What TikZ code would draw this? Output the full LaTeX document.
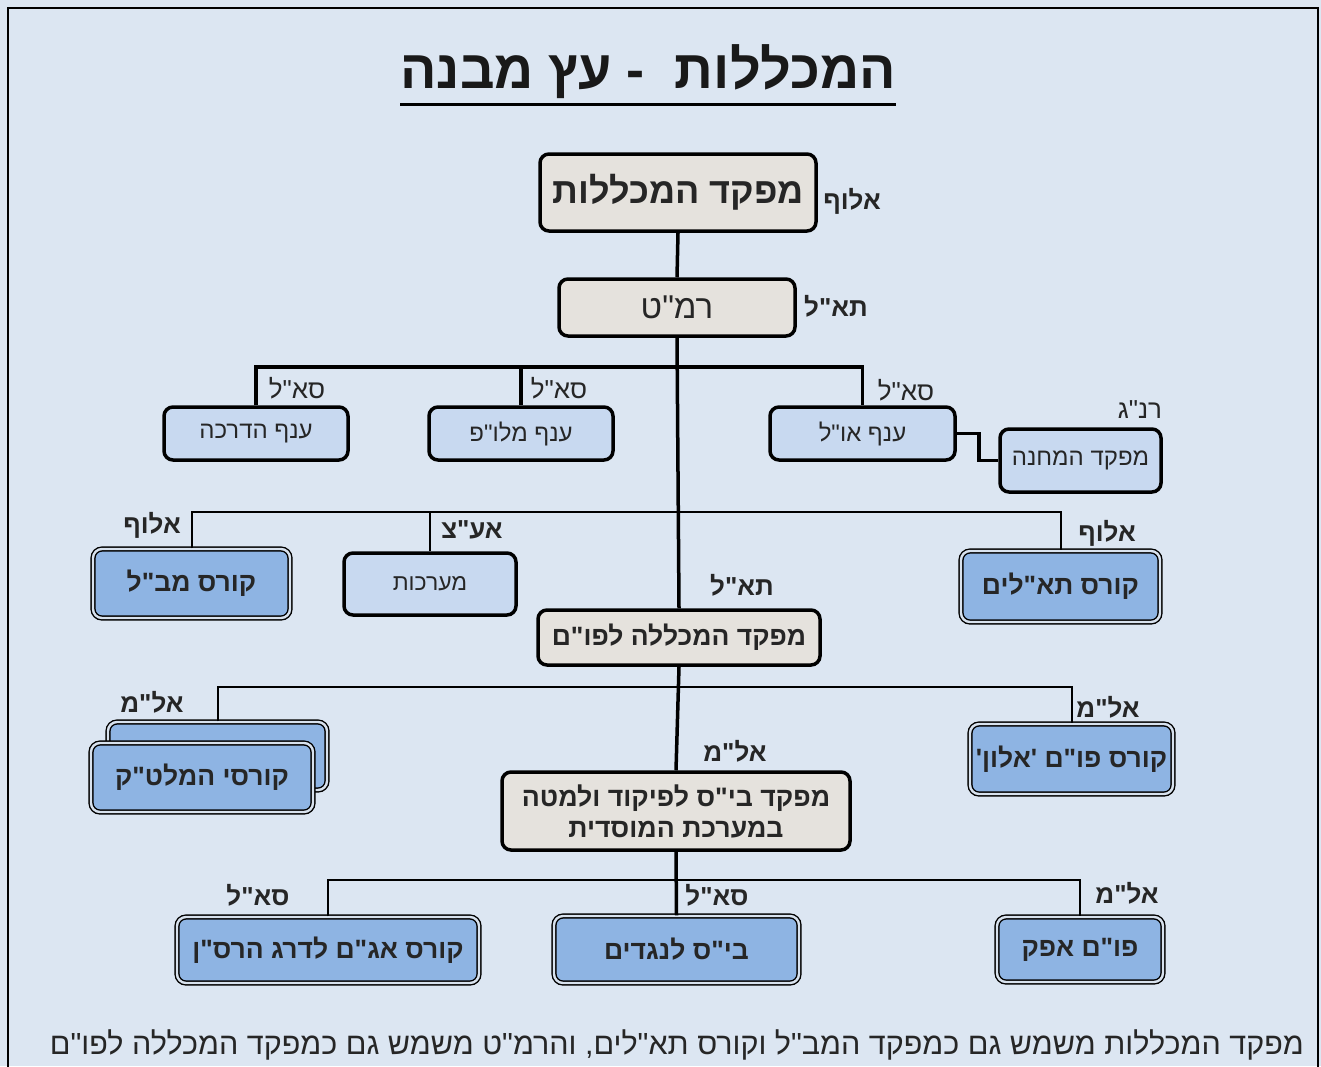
\documentclass[tikz,border=0pt]{standalone}
\usepackage{fontspec}
\newfontfamily\heb[Script=Hebrew]{Liberation Sans}
\TeXXeTstate=1
\newcommand{\hb}[1]{\beginR#1\endR}
\definecolor{bgcol}{HTML}{DCE6F2}
\definecolor{grayfill}{HTML}{E5E2DD}
\definecolor{lightblue}{HTML}{C8D9F0}
\definecolor{medblue}{HTML}{8EB4E3}
\definecolor{gapcol}{HTML}{D8E2EE}
\tikzset{
  box/.style={rounded corners=9pt, draw=black, inner sep=0pt, align=center, text=black!85},
  graybox/.style={box, line width=3.5pt, fill=grayfill},
  lbbox/.style={box, line width=3.5pt, fill=lightblue, font=\heb\fontsize{24}{28}\selectfont},
  dblbox/.style={box, line width=1.4pt, double=gapcol, double distance=2.4pt, fill=medblue, font=\heb\bfseries\fontsize{26.5}{31}\selectfont},
  rank/.style={font=\heb\bfseries\fontsize{26}{30}\selectfont, text=black!85, inner sep=0pt},
  rankthin/.style={font=\heb\fontsize{26}{30}\selectfont, text=black!85, inner sep=0pt},
  trunk/.style={line width=3.5pt},
  branch/.style={line width=2pt},
}
\begin{document}
\begin{tikzpicture}[x=1pt,y=-1pt]
\fill[bgcol] (0,0) rectangle (1321,1066);
\useasboundingbox (0,0) rectangle (1321,1066);
\draw[line width=2pt] (8,1070) -- (8,8) -- (1318,8) -- (1318,1070);

% title
\node[font=\heb\bfseries\fontsize{54}{60}\selectfont, inner sep=0pt, text=black!90] (title) at (648,72) {\hb{המכללות \ - עץ מבנה}};
\draw[line width=3pt] ([yshift=-5pt]title.south west) -- ([yshift=-5pt]title.south east);

% boxes
\node[graybox, minimum width=276pt, minimum height=77pt, font=\heb\bfseries\fontsize{36}{42}\selectfont] (top) at (678,192.5) {\hb{מפקד המכללות}};
\node[graybox, minimum width=236pt, minimum height=57pt, font=\heb\fontsize{33}{38}\selectfont] (rmt) at (677,307.5) {\hb{רמ"ט}};

\node[lbbox, minimum width=184pt, minimum height=53pt] (hadracha) at (256,433.5) {\hb{ענף הדרכה}};
\node[lbbox, minimum width=184pt, minimum height=53pt] (malop) at (521,433.5) {\hb{ענף מלו"פ}};
\node[lbbox, minimum width=185pt, minimum height=53pt] (oul) at (862.5,433.5) {\hb{ענף או"ל}};
\node[lbbox, minimum width=161pt, minimum height=63pt] (machane) at (1080.5,460.5) {\hb{מפקד המחנה}};

\node[dblbox, minimum width=197pt, minimum height=69pt] (mabal) at (191.5,583.5) {\hb{קורס מב"ל}};
\node[lbbox, minimum width=172pt, minimum height=62pt, font=\heb\fontsize{23}{28}\selectfont] (maarachot) at (430,584) {\hb{מערכות}};
\node[dblbox, minimum width=199pt, minimum height=71pt] (talim) at (1060.5,586.5) {\hb{קורס תא"לים}};

\node[graybox, minimum width=282pt, minimum height=55pt, font=\heb\bfseries\fontsize{26.5}{31}\selectfont] (fomc) at (679,637.5) {\hb{מפקד המכללה לפו"ם}};

\node[dblbox, minimum width=219pt, minimum height=68pt] (melback) at (217.5,756) {};
\node[dblbox, minimum width=222pt, minimum height=69pt] (melatak) at (202,777.5) {\hb{קורסי המלט"ק}};
\node[dblbox, minimum width=203pt, minimum height=70pt] (alon) at (1071.5,759) {\hb{קורס פו"ם 'אלון'}};

\node[graybox, minimum width=348pt, minimum height=78pt, font=\heb\bfseries\fontsize{26.7}{31}\selectfont] (bisc) at (676,811) {\hb{מפקד בי"ס לפיקוד ולמטה}\\\hb{במערכת המוסדית}};

\node[dblbox, minimum width=302pt, minimum height=66pt] (agam) at (328,950) {\hb{קורס אג"ם לדרג הרס"ן}};
\node[dblbox, minimum width=245pt, minimum height=67pt] (nagadim) at (676.5,949.5) {\hb{בי"ס לנגדים}};
\node[dblbox, minimum width=166pt, minimum height=65pt] (afek) at (1080,949.5) {\hb{פו"ם אפק}};

% rank labels
\node[rank] (l1) at (852,201) {\hb{אלוף}};
\node[rank] (l2) at (836,306) {\hb{תא"ל}};
\node[rankthin] (l3) at (297,388) {\hb{סא"ל}};
\node[rankthin] (l4) at (559,388) {\hb{סא"ל}};
\node[rankthin] (l5) at (906,390) {\hb{סא"ל}};
\node[rankthin] (l6) at (1140,410) {\hb{רנ"ג}};
\node[rank] (l7) at (152,525) {\hb{אלוף}};
\node[rank] (l8) at (472,530) {\hb{אע"צ}};
\node[rank] (l9) at (1107,533) {\hb{אלוף}};
\node[rank] (l10) at (742,585) {\hb{תא"ל}};
\node[rank] (l11) at (152,702) {\hb{אל"מ}};
\node[rank] (l12) at (1108,707) {\hb{אל"מ}};
\node[rank] (l13) at (735,751) {\hb{אל"מ}};
\node[rank] (l14) at (258,895) {\hb{סא"ל}};
\node[rank] (l15) at (717,895) {\hb{סא"ל}};
\node[rank] (l16) at (1127,893) {\hb{אל"מ}};

% junction coordinates
\coordinate (j1) at (677,367);
\coordinate (j2) at (677,512);
\coordinate (j3) at (677,687);
\coordinate (j4) at (677,880);

% connectors
\draw[trunk] (top.south) -- (rmt.north);
\draw[trunk] (rmt.south) -- (fomc.north);
\draw[trunk] (fomc.south) -- (bisc.north);
\draw[trunk] (bisc.south) -- (nagadim.north);

\draw[trunk] (hadracha.north) |- (j1) -| (oul.north);
\draw[trunk] (malop.north) -- (malop.north |- j1);
\draw[trunk] (oul.east) -- ++(22,0) |- (machane.west);

\draw[branch] (mabal.north) |- (j2) -| (talim.north);
\draw[branch] (maarachot.north) -- (maarachot.north |- j2);

\draw[branch] (melback.north) |- (j3) -| (alon.north);

\draw[line width=2.5pt] (agam.north) |- (j4) -| (afek.north);

% footer
\node[font=\heb\fontsize{30.5}{36}\selectfont, anchor=east, inner sep=0pt, text=black!85] (footer) at (1304,1045) {\hb{מפקד המכללות משמש גם כמפקד המב"ל וקורס תא"לים, והרמ"ט משמש גם כמפקד המכללה לפו"ם}};
\end{tikzpicture}
\end{document}
